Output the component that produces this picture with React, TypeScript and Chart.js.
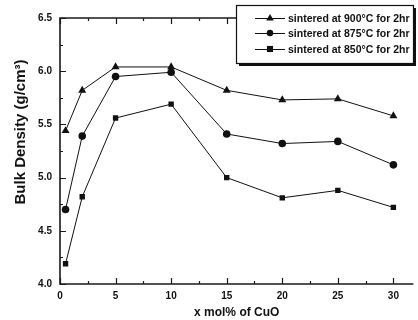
import React, { useEffect, useRef } from "react";
import { Chart, registerables } from "chart.js";

Chart.register(...registerables);

const xValues = [0.5, 2, 5, 10, 15, 20, 25, 30];
const s900 = [5.44, 5.82, 6.04, 6.04, 5.82, 5.73, 5.74, 5.58];
const s875 = [4.7, 5.39, 5.95, 5.99, 5.41, 5.32, 5.34, 5.12];
const s850 = [4.19, 4.82, 5.56, 5.69, 5.0, 4.81, 4.88, 4.72];
const seriesLabels = [
  "sintered at 900°C for 2hr",
  "sintered at 875°C for 2hr",
  "sintered at 850°C for 2hr",
];
const pointStyles = ["triangle", "circle", "rect"];
const xTitle = "x mol% of CuO";
const yTitle = "Bulk Density (g/cm³)";

const FONT = "'Liberation Sans', Arial, sans-serif";

function drawMarker(ctx: CanvasRenderingContext2D, style: string, x: number, y: number, r: number) {
  ctx.beginPath();
  if (style === "triangle") {
    ctx.moveTo(x, y - r * 1.1);
    ctx.lineTo(x + r * 1.05, y + r * 0.7);
    ctx.lineTo(x - r * 1.05, y + r * 0.7);
    ctx.closePath();
  } else if (style === "circle") {
    ctx.arc(x, y, r * 0.9, 0, Math.PI * 2);
  } else {
    ctx.rect(x - r * 0.85, y - r * 0.85, r * 1.7, r * 1.7);
  }
  ctx.fill();
}

const decor = {
  id: "decor",
  beforeDatasetsDraw(chart: any) {
    const { ctx, chartArea: a, scales } = chart;
    const x = scales.x;
    const y = scales.y;
    ctx.save();
    ctx.strokeStyle = "#1a1a1a";
    ctx.lineWidth = 1.6;
    ctx.beginPath();
    ctx.moveTo(a.right, a.top);
    ctx.lineTo(a.left, a.top);
    ctx.lineTo(a.left, a.bottom);
    ctx.lineTo(a.right, a.bottom);
    ctx.stroke();
    ctx.lineWidth = 1.2;
    ctx.beginPath();
    for (let i = 0; i * 2.5 <= x.max; i++) {
      const v = i * 2.5;
      const px = Math.round(x.getPixelForValue(v)) + 0.5;
      const len = i % 2 === 0 ? 6 : 3;
      ctx.moveTo(px, a.bottom);
      ctx.lineTo(px, a.bottom - len);
      ctx.moveTo(px, a.top);
      ctx.lineTo(px, a.top + len);
    }
    for (let i = 0; 4 + i * 0.25 <= y.max + 1e-9; i++) {
      const v = 4 + i * 0.25;
      const py = Math.round(y.getPixelForValue(v)) + 0.5;
      const len = i % 2 === 0 ? 6 : 3;
      ctx.moveTo(a.left, py);
      ctx.lineTo(a.left + len, py);
    }
    ctx.stroke();

    // y axis title
    ctx.save();
    ctx.translate(25, 132);
    ctx.rotate(-Math.PI / 2);
    ctx.font = `bold 15px ${FONT}`;
    ctx.fillStyle = "#111";
    ctx.textAlign = "center";
    ctx.textBaseline = "alphabetic";
    ctx.fillText(yTitle, 0, 0);
    ctx.restore();
    ctx.restore();
  },
  afterDraw(chart: any) {
    const { ctx } = chart;
    ctx.save();
    const bx = 236, by = 5, bw = 177, bh = 58;
    ctx.fillStyle = "#111";
    ctx.fillRect(bx + 3, by + 3, bw, bh);
    ctx.fillStyle = "#fff";
    ctx.fillRect(bx, by, bw, bh);
    ctx.strokeStyle = "#111";
    ctx.lineWidth = 1.2;
    ctx.strokeRect(bx + 0.5, by + 0.5, bw, bh);
    const rows = [18, 33, 49];
    chart.data.datasets.forEach((ds: any, i: number) => {
      const ry = rows[i];
      ctx.strokeStyle = "#111";
      ctx.lineWidth = 1;
      ctx.beginPath();
      ctx.moveTo(255, ry + 0.5);
      ctx.lineTo(285, ry + 0.5);
      ctx.stroke();
      ctx.fillStyle = "#111";
      drawMarker(ctx, ds.pointStyle, 270, ry, 3.6);
      ctx.font = `bold 10.5px ${FONT}`;
      ctx.textBaseline = "middle";
      ctx.textAlign = "left";
      ctx.fillText(ds.label, 288, ry + 1);
    });
    ctx.restore();
  },
};

export default function App() {
  const ref = useRef<HTMLCanvasElement | null>(null);
  useEffect(() => {
    if (!ref.current) return;
    const series = [s900, s875, s850];
    const chart = new Chart(ref.current, {
      type: "line",
      data: {
        datasets: series.map((vals, i) => ({
          label: seriesLabels[i],
          data: xValues.map((xv, j) => ({ x: xv, y: vals[j] })),
          borderColor: "#111",
          backgroundColor: "#111",
          borderWidth: 1,
          pointStyle: pointStyles[i] as any,
          pointRadius: i === 0 ? 4.6 : 3.8,
          pointBorderWidth: 0,
          pointBackgroundColor: "#111",
          tension: 0,
        })),
      },
      options: {
        animation: false,
        responsive: true,
        maintainAspectRatio: false,
        layout: { padding: { top: 18, right: 0, left: 0, bottom: 0 } },
        plugins: { legend: { display: false }, tooltip: { enabled: false } },
        scales: {
          x: {
            type: "linear",
            min: 0,
            max: 31.8,
            grid: { display: false, drawTicks: false },
            border: { display: false },
            ticks: {
              stepSize: 5,
              includeBounds: false,
              padding: 6,
              color: "#111",
              font: { family: FONT, size: 10, weight: "bold" },
            },
            title: {
              display: true,
              text: xTitle,
              color: "#111",
              font: { family: FONT, size: 12, weight: "bold" },
              padding: { top: 2, bottom: 0 },
            },
            afterFit: (s: any) => {
              s.height = 36;
            },
          },
          y: {
            type: "linear",
            min: 4,
            max: 6.5,
            grid: { display: false, drawTicks: false },
            border: { display: false },
            ticks: {
              stepSize: 0.5,
              padding: 8,
              color: "#111",
              font: { family: FONT, size: 10, weight: "bold" },
              callback: (v: any) => Number(v).toFixed(1),
            },
            title: { display: false },
            afterFit: (s: any) => {
              s.width = 60;
            },
          },
        },
      },
      plugins: [decor],
    });
    return () => chart.destroy();
  }, []);
  return (
    <div style={{ position: "fixed", left: 0, top: 0, width: 418, height: 320, background: "#fff" }}>
      <canvas ref={ref} />
    </div>
  );
}
